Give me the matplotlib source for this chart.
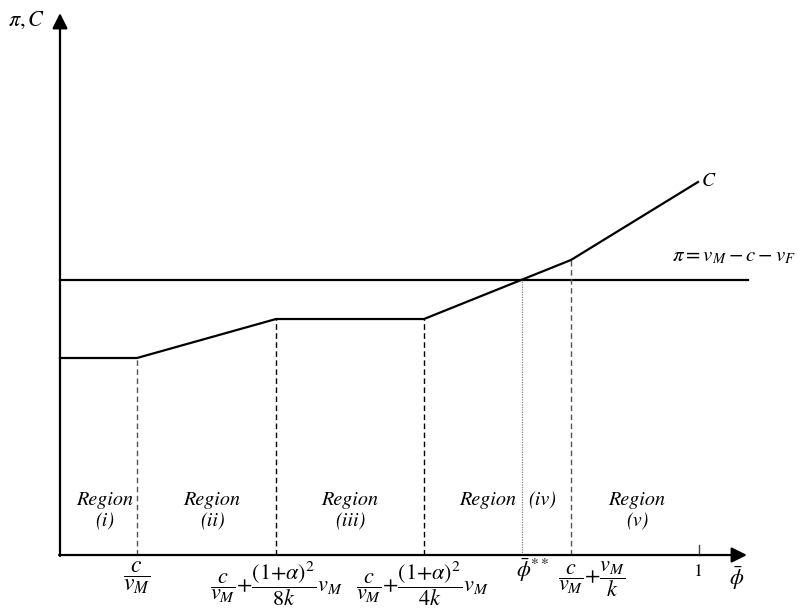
"""
Ilustrasi kurva C dan garis pi terhadap phi-bar (lima region)
"""

import matplotlib.pyplot as plt

plt.rcParams['mathtext.fontset'] = 'stix'
plt.rcParams['font.family'] = 'STIXGeneral'

# Titik patah kurva C (phi, C)
phi_C = [0.0, 0.1205, 0.3380, 0.5696, 0.7997, 0.9984]
C_vals = [0.3083, 0.3083, 0.3693, 0.3693, 0.4617, 0.5837]

# Garis pi konstan
pi_level = 0.4304
pi_end = 1.077

# Titik potong pi dan C
phi_star = 0.7230

# Garis vertikal putus-putus (posisi, warna)
vlines_phi = [0.1205, 0.3380, 0.5696, 0.7997]
vlines_top = [0.3083, 0.3693, 0.3693, 0.4617]
vlines_col = ['#555555', 'black', 'black', '#555555']

# Label region
region_x = [0.0704, 0.238, 0.454, 0.903]
region_txt = ['Region\n(i)', 'Region\n(ii)', 'Region\n(iii)', 'Region\n(v)']

fig = plt.figure(figsize=(8.01, 6.14), dpi=100)
ax = fig.add_axes([0, 0, 1, 1])
ax.set_xlim(-0.0939, 1.1596)
ax.set_ylim(-0.0923, 0.8685)
ax.axis('off')

# Sumbu dengan panah
arrow = dict(arrowstyle='-|>', color='black', lw=1.6, mutation_scale=23,
             shrinkA=0, shrinkB=0)
ax.annotate('', xy=(0, 0.848), xytext=(0, -0.0015), arrowprops=arrow)
ax.annotate('', xy=(1.075, 0), xytext=(-0.0015, 0), arrowprops=arrow)

# Kurva C dan garis pi
ax.plot(phi_C, C_vals, color='black', lw=1.6, solid_joinstyle='miter')
ax.plot([0, pi_end], [pi_level, pi_level], color='black', lw=1.6)

# Garis vertikal
for x, top, col in zip(vlines_phi, vlines_top, vlines_col):
    ax.plot([x, x], [0, top], color=col, lw=1.0, linestyle=(0, (4, 2.5)))
ax.plot([phi_star, phi_star], [0, pi_level], color='#888888', lw=0.9,
        linestyle=(0, (1, 1)))

# Tick di 1
ax.plot([1, 1], [0, 0.015], color='#444444', lw=1.0)

# Label region
for x, t in zip(region_x, region_txt):
    ax.text(x, 0.069, t, ha='center', va='center', fontsize=14.5,
            style='italic', linespacing=1.2)
ax.text(0.669, 0.086, 'Region', ha='center', va='center', fontsize=14.5,
        style='italic')
ax.text(0.755, 0.086, '(iv)', ha='center', va='center', fontsize=14.5,
        style='italic')

# Label sumbu
ax.text(-0.052, 0.836, r'$\pi, C$', ha='center', va='center', fontsize=16)
ax.text(1.003, 0.5853, r'$C$', ha='left', va='center', fontsize=14)
ax.text(1.152, 0.468, r'$\pi = v_M - c - v_F$', ha='right', va='center',
        fontsize=15)

# Label tick sumbu x
ax.text(0.1205, -0.007, r'$\dfrac{c}{v_M}$', ha='center', va='top',
        fontsize=17)
ax.text(0.339, -0.007, r'$\dfrac{c}{v_M}{+}\dfrac{(1{+}\alpha)^2}{8k}v_M$',
        ha='center', va='top', fontsize=16)
ax.text(0.567, -0.007, r'$\dfrac{c}{v_M}{+}\dfrac{(1{+}\alpha)^2}{4k}v_M$',
        ha='center', va='top', fontsize=16)
ax.text(0.739, -0.024, r'$\bar{\phi}^{**}$', ha='center', va='center',
        fontsize=16)
ax.text(0.833, -0.007, r'$\dfrac{c}{v_M}{+}\dfrac{v_M}{k}$', ha='center',
        va='top', fontsize=16)
ax.text(1.0, -0.027, '1', ha='center', va='center', fontsize=13)
ax.text(1.059, -0.036, r'$\bar{\phi}$', ha='center', va='center', fontsize=16)

plt.savefig('out.png', dpi=100)
